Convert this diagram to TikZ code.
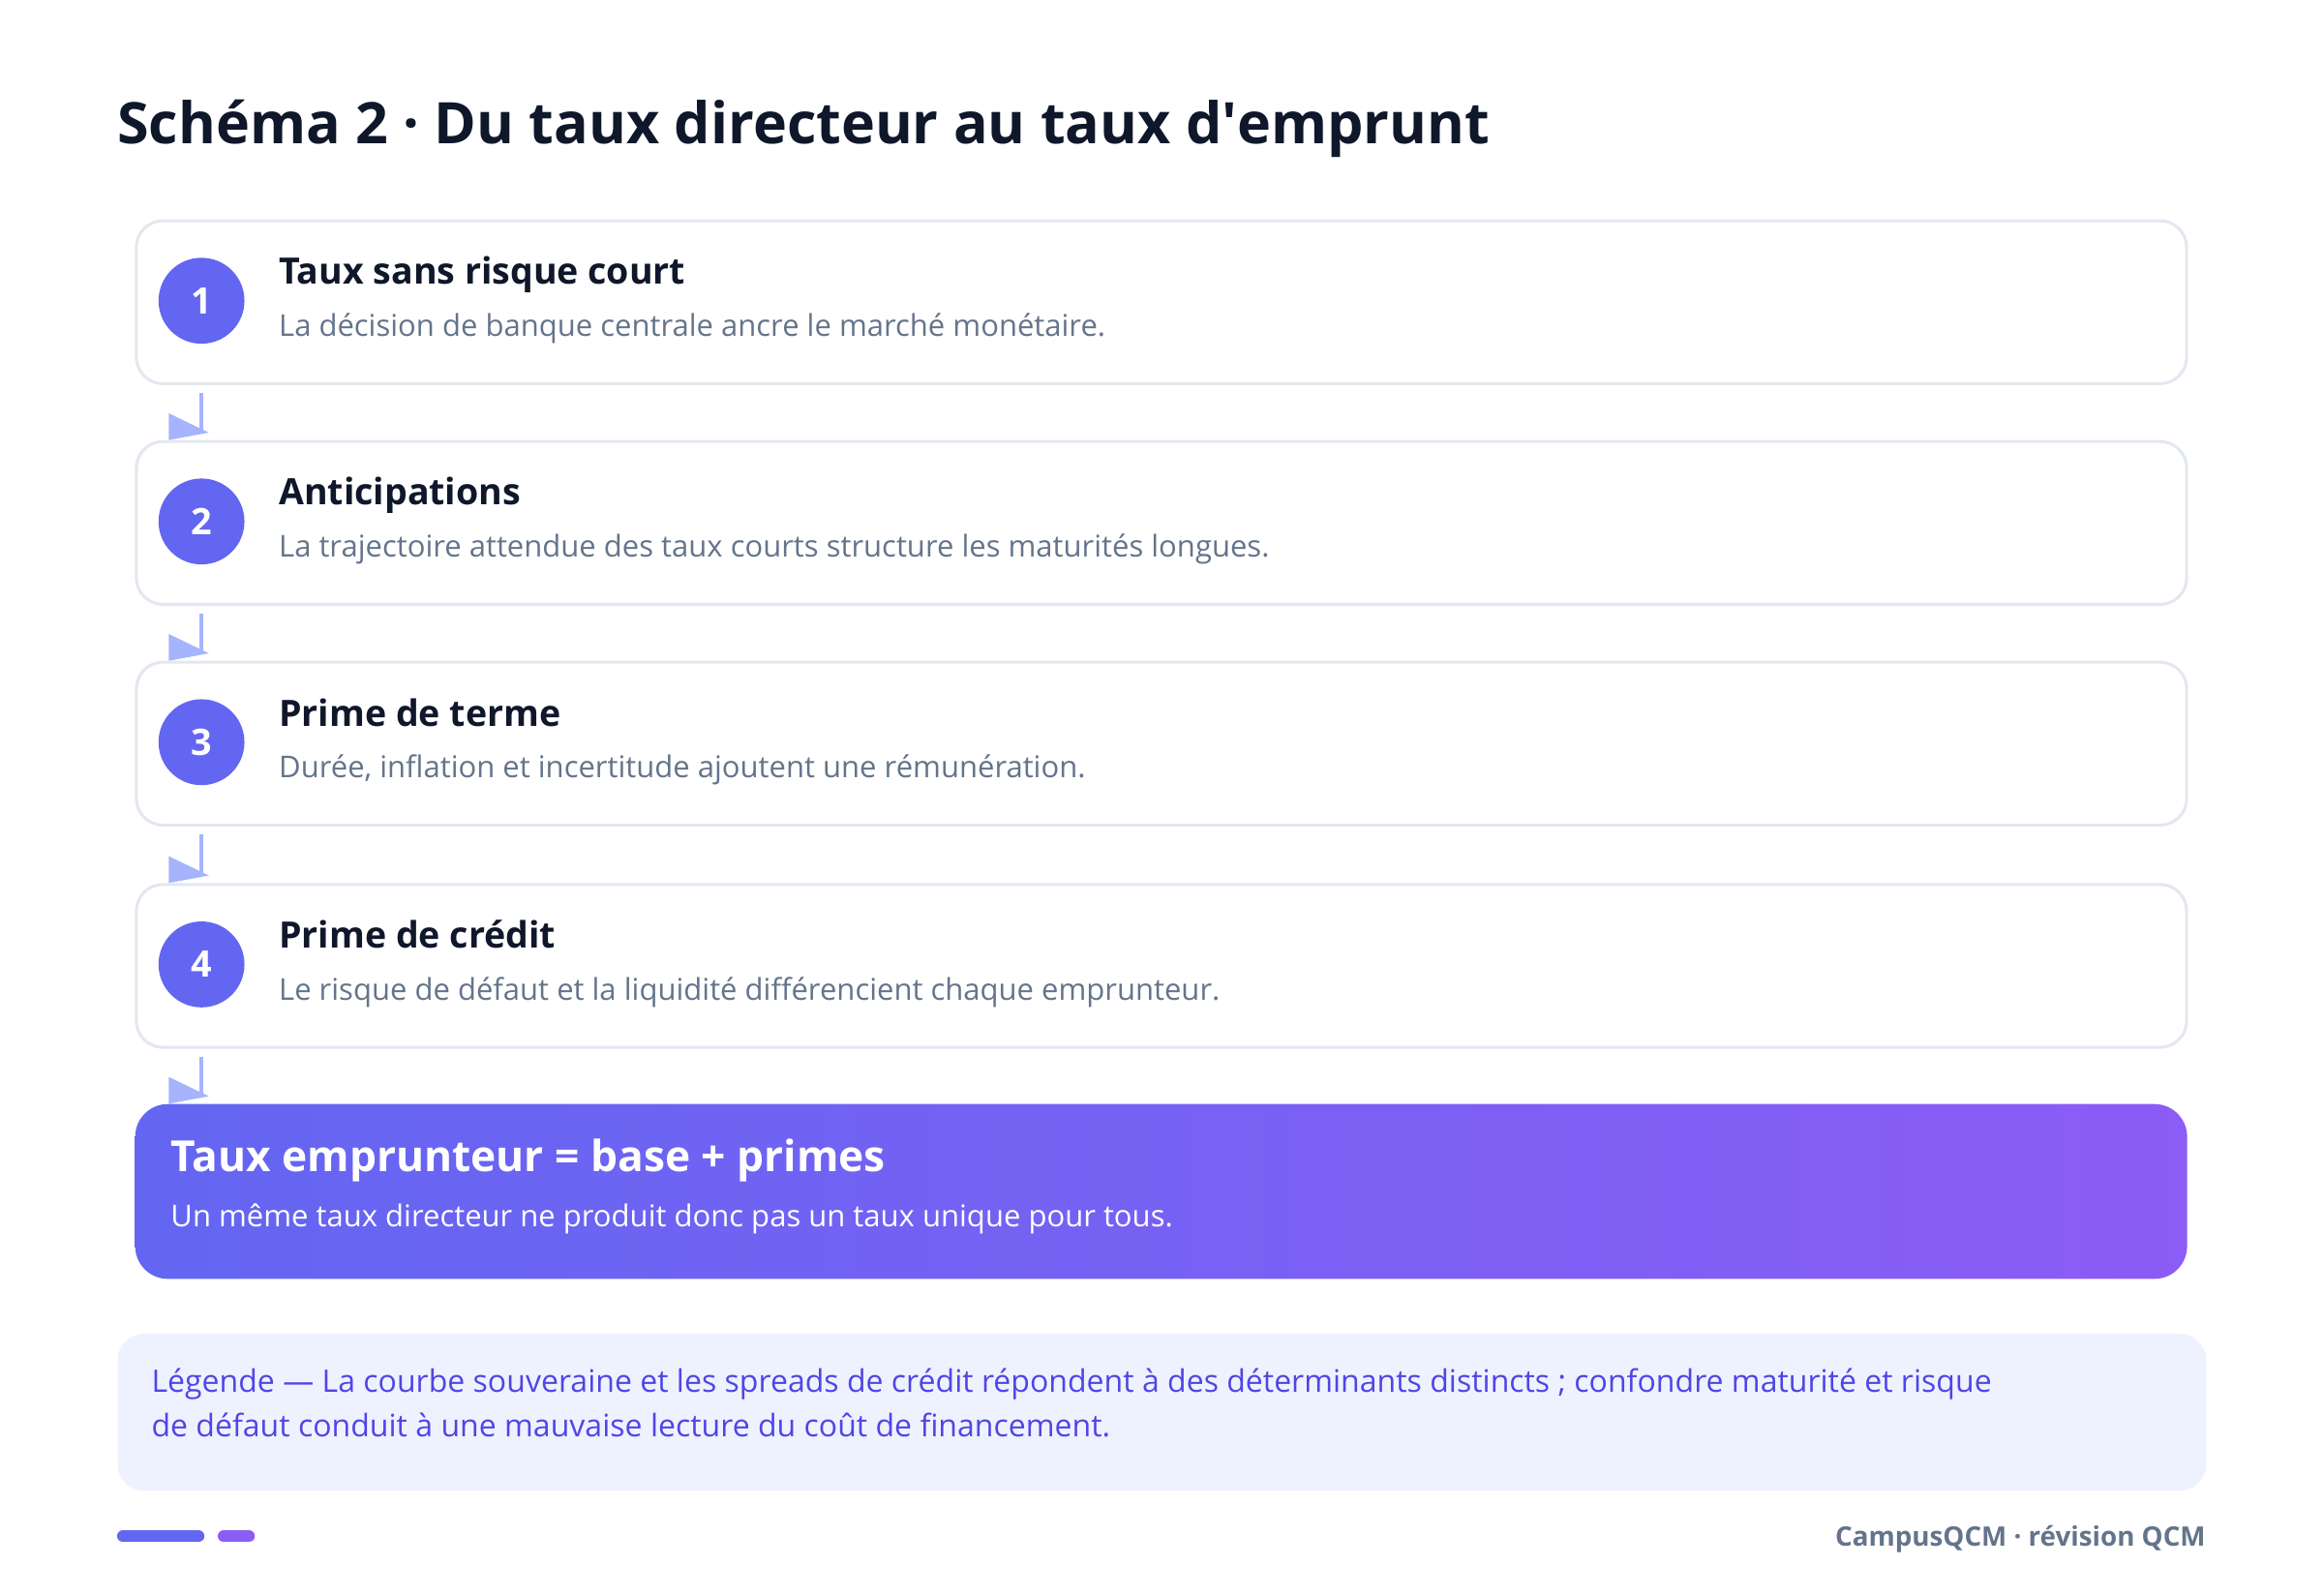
\documentclass[tikz,border=0pt]{standalone}
\usepackage{fontspec}
\setmainfont{Open Sans}
\usepackage{tikz}
\usetikzlibrary{calc}
\definecolor{ink}{HTML}{0F172A}
\definecolor{muted}{HTML}{64748B}
\definecolor{linegray}{HTML}{E2E8F0}
\definecolor{indigo}{HTML}{6366F1}
\definecolor{violet}{HTML}{8B5CF6}
\definecolor{arrowc}{HTML}{A5B4FC}
\definecolor{legfill}{HTML}{EEF2FF}
\definecolor{legtext}{HTML}{4F46E5}
\tikzset{
  stepbox/.style={
    draw=linegray, line width=1.5pt,
    fill=white,
    rounded corners=13.5pt,
    minimum width=1038pt,
    minimum height=82.5pt,
    inner sep=0pt,
    anchor=north west},
  numdot/.style={
    circle, fill=indigo, text=white,
    minimum size=43.5pt, inner sep=0pt,
    font=\bfseries\fontsize{18.5}{18.5}\selectfont},
  head/.style={anchor=base west, inner sep=0pt, text=ink,
    font=\bfseries\fontsize{18.4}{21}\selectfont},
  desc/.style={anchor=base west, inner sep=0pt, text=muted,
    font=\fontsize{15.2}{18}\selectfont},
  flowline/.style={draw=arrowc, line width=1.9pt},
  flowhead/.style={fill=arrowc},
  resbox/.style={
    rounded corners=16.5pt,
    left color=indigo, right color=violet,
    minimum width=1038.75pt,
    minimum height=88.5pt,
    inner sep=0pt,
    anchor=north west},
  legbox/.style={
    fill=legfill,
    rounded corners=13.5pt,
    minimum width=1057.5pt,
    minimum height=79.5pt,
    inner sep=0pt,
    anchor=north west},
  legline/.style={anchor=base west, inner sep=0pt, text=legtext,
    font=\fontsize{15.7}{18}\selectfont},
}
\begin{document}
\begin{tikzpicture}[x=0.75pt, y=-0.75pt]
\useasboundingbox (0,0) rectangle (1568,1076.7);
\node[anchor=base west, inner sep=0pt, text=ink,
      font=\bfseries\fontsize{29}{34}\selectfont] (title) at (79,97)
      {Schéma 2 · Du taux directeur au taux d\textquotesingle emprunt};
% the four steps
\foreach \i/\y/\titre/\texte in {1/148/Taux sans risque court/La décision de banque centrale ancre le marché monétaire.,
    2/297/Anticipations/La trajectoire attendue des taux courts structure les maturités longues.,
    {3/446/Prime de terme/Durée, inflation et incertitude ajoutent une rémunération.},
    4/596/Prime de crédit/Le risque de défaut et la liquidité différencient chaque emprunteur.}{
    \node[stepbox] (s\i) at (91,\y) {};
    \node[numdot] (c\i) at (136,\y+55) {\i};
    \node[head] (h\i) at (188,\y+44) {\titre};
    \node[desc] (d\i) at (188,\y+79) {\texte};
    }
\node[resbox] (res) at (91,745) {};
\node[anchor=base west, inner sep=0pt, text=white,
      font=\bfseries\fontsize{21.7}{25}\selectfont] (rhead) at (115,791)
      {Taux emprunteur = base + primes};
\node[anchor=base west, inner sep=0pt, text=white,
      font=\fontsize{15.2}{18}\selectfont] (rtext) at (115,828)
      {Un même taux directeur ne produit donc pas un taux unique pour tous.};
% connectors
\foreach \i/\nxt in {1/s2,2/s3,3/s4,4/res}{
    \draw[flowline] ([yshift=-4pt]c\i |- s\i.south) -- ([yshift=3.5pt]c\i |- \nxt.north);
    \fill[flowhead] (c\i |- \nxt.north) ++(-22,-18) -- ++(27,13) -- ++(-27,5) -- cycle;
    }
\node[legbox] (leg) at (79,900) {};
\node[legline] (leg1) at (102,940) {Légende — La courbe souveraine et les spreads de crédit répondent à des déterminants distincts ; confondre maturité et risque};
\node[legline] (leg2) at (102,970) {de défaut conduit à une mauvaise lecture du coût de financement.};
\draw[indigo, line width=6pt, line cap=round] (83,1037) -- (134,1037);
\draw[violet, line width=6pt, line cap=round] (151,1037) -- (168,1037);
\node[anchor=base east, inner sep=0pt, text=muted,
      font=\bfseries\fontsize{13.6}{16}\selectfont] (foot) at (1489,1044)
      {CampusQCM · révision QCM};
\end{tikzpicture}
\end{document}
